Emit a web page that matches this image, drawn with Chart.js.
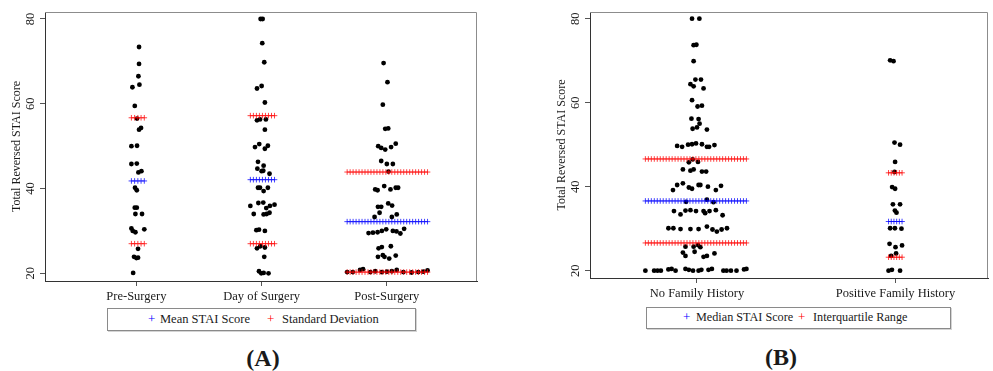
<!DOCTYPE html>
<html><head><meta charset="utf-8">
<script src="https://cdn.jsdelivr.net/npm/chart.js@4.4.1/dist/chart.umd.min.js"></script>
<style>
html,body{margin:0;padding:0;background:#fff;width:993px;height:371px;overflow:hidden;font-family:"Liberation Serif","Times New Roman",serif;color:#1a1a1a;}
#wa{position:absolute;left:0;top:0;width:482px;height:305px;}
#wb{position:absolute;left:545px;top:0;width:448px;height:305px;}
.legend{position:absolute;border:1px solid #8a8a8a;box-shadow:1px 1px 0 #d4d4d4;background:#fff;font-size:12.5px;}
.legend span{position:absolute;white-space:nowrap;line-height:14px;}
.plus{font-size:13px;}
.panel{position:absolute;width:100px;text-align:center;font-weight:bold;font-size:24px;line-height:24px;}
</style></head>
<body>
<div id="wa"><canvas id="ca" width="482" height="305"></canvas></div>
<div id="wb"><canvas id="cb" width="448" height="305"></canvas></div>

<div class="legend" style="left:107px;top:308px;width:307px;height:21px;">
  <span class="plus" style="left:40px;top:3px;color:#0000ff;">+</span>
  <span style="left:52px;top:3px;">Mean STAI Score</span>
  <span class="plus" style="left:159px;top:3px;color:#ff0000;">+</span>
  <span style="left:174px;top:3px;">Standard Deviation</span>
</div>
<div class="legend" style="left:646px;top:307px;width:303px;height:20px;font-size:12.2px;">
  <span class="plus" style="left:36px;top:2px;color:#0000ff;">+</span>
  <span style="left:49px;top:2px;">Median STAI Score</span>
  <span class="plus" style="left:151px;top:2px;color:#ff0000;">+</span>
  <span style="left:166px;top:2px;">Interquartile Range</span>
</div>
<div class="panel" style="left:213px;top:346px;">(A)</div>
<div class="panel" style="left:731px;top:345px;">(B)</div>

<script>
// ---------- Panel A data ----------
const categoriesA = ['Pre-Surgery', 'Day of Surgery', 'Post-Surgery'];
const preSurgery = [73.4, 69.4, 66.5, 64.5, 63.9, 59.5, 56.5, 53.9, 54.3, 50.0, 50.1, 45.8, 45.9, 43.8, 44.1, 40.2, 39.6, 35.5, 35.5, 34.0, 34.0, 30.6, 30.0, 29.7, 30.4, 25.8, 23.9, 23.6, 23.7, 20.1];
const preSurgeryJitter = [0.021, 0.021, 0.016, 0.024, -0.032, -0.013, 0.005, 0.021, 0.037, -0.040, 0.005, -0.040, 0.003, 0.016, 0.040, -0.011, 0.003, -0.013, 0.003, -0.008, 0.045, -0.040, -0.029, -0.008, 0.063, 0.013, -0.019, 0.000, 0.013, -0.026];
const daySurgery = [80.0, 80.0, 74.3, 69.8, 63.6, 64.2, 60.3, 56.1, 56.3, 56.3, 53.9, 49.8, 50.5, 49.4, 50.1, 46.3, 45.4, 44.7, 44.1, 44.2, 43.5, 40.2, 40.2, 39.4, 40.2, 35.9, 36.6, 36.7, 35.4, 35.9, 36.2, 34.0, 33.9, 34.0, 34.3, 30.2, 30.3, 30.0, 25.9, 26.4, 26.1, 23.9, 20.5, 20.0, 20.1, 20.0];
const daySurgeryJitter = [-0.008, 0.008, 0.005, 0.021, -0.037, 0.000, 0.026, -0.037, -0.013, 0.034, 0.026, -0.053, -0.019, 0.026, 0.050, -0.029, 0.016, -0.034, 0.000, 0.013, 0.063, -0.029, -0.013, 0.016, 0.050, -0.090, -0.026, 0.013, 0.037, 0.066, 0.103, -0.063, 0.016, 0.040, 0.063, -0.042, -0.021, 0.026, -0.037, -0.011, 0.026, 0.021, -0.021, -0.003, 0.016, 0.055];
const postSurgery = [69.6, 65.1, 59.8, 54.1, 54.2, 50.0, 49.6, 49.2, 49.8, 50.6, 46.5, 45.8, 45.8, 44.0, 39.8, 39.6, 40.6, 39.8, 40.2, 40.2, 35.7, 35.7, 36.5, 36.0, 33.3, 34.3, 33.3, 33.9, 29.5, 29.6, 29.7, 30.0, 30.4, 30.0, 29.9, 29.4, 30.5, 25.9, 26.2, 26.4, 23.9, 24.3, 23.9, 23.5, 24.2, 20.3, 20.3, 20.8, 21.0, 20.3, 20.5, 20.3, 20.4, 20.5, 20.8, 20.3, 20.2, 20.3, 20.4, 20.7];
const postSurgeryJitter = [-0.026, 0.005, -0.032, -0.013, 0.011, -0.069, -0.045, -0.013, 0.034, 0.071, -0.045, 0.000, 0.048, 0.013, -0.093, -0.074, -0.021, 0.029, 0.071, 0.090, -0.071, -0.045, 0.011, 0.042, -0.098, -0.058, 0.040, 0.079, -0.146, -0.111, -0.074, -0.040, -0.005, 0.048, 0.077, 0.108, 0.138, -0.066, -0.040, 0.032, -0.071, -0.032, -0.019, 0.019, 0.071, -0.317, -0.272, -0.214, -0.190, -0.132, -0.093, -0.040, 0.000, 0.040, 0.079, 0.132, 0.198, 0.251, 0.291, 0.325];
const meanA = [41.8, 42.1, 32.2];
const sdLowA = [27.0, 27.0, 20.3];
const sdHighA = [56.7, 57.2, 43.9];

// ---------- Panel B data ----------
const categoriesB = ['No Family History', 'Positive Family History'];
const noFamily = [80.0, 80.0, 73.7, 73.8, 69.9, 64.4, 65.5, 65.5, 63.9, 63.4, 60.6, 59.1, 59.3, 56.2, 53.8, 56.1, 55.0, 54.1, 53.6,
  49.7, 49.5, 50.0, 50.1, 50.3, 50.1, 49.5, 49.5, 49.9, 45.8, 46.5, 45.9, 44.1, 43.8, 44.1, 43.6, 43.6,
  39.2, 40.4, 40.8, 39.8, 39.5, 40.4, 40.4, 40.0, 39.2, 40.2, 36.4, 36.9, 36.3,
  34.2, 33.4, 34.3, 34.4, 34.2, 34.2, 33.7, 34.2, 34.4, 33.2,
  30.1, 30.1, 29.9, 29.9, 29.9, 30.5, 29.8, 29.3, 29.8, 30.1,
  25.7, 25.7, 26.1, 25.6, 24.3, 23.5, 24.5, 23.3, 23.5, 24.1,
  20.0, 20.0, 20.0, 20.0, 20.3, 20.4, 20.0, 20.4, 20.2, 20.0, 20.0, 20.2, 20.2, 20.4, 20.0, 20.0, 20.0, 20.0, 20.3, 20.4];
const noFamilyJitter = [-0.025, 0.012, -0.017, -0.003, -0.017, -0.033, -0.008, 0.020, -0.017, 0.033, -0.025, 0.003, 0.025, -0.028, -0.022, 0.008, 0.013, 0.000, 0.050,
  -0.100, -0.075, -0.045, -0.025, -0.005, 0.025, 0.050, 0.061, 0.088, -0.041, -0.022, 0.005, -0.071, -0.033, -0.017, 0.025, 0.046,
  -0.121, -0.100, -0.071, -0.041, -0.025, 0.008, 0.017, 0.055, 0.095, 0.121, -0.055, 0.050, 0.083,
  -0.116, -0.083, -0.058, -0.033, -0.005, 0.033, 0.041, 0.063, 0.095, 0.129,
  -0.144, -0.119, -0.083, -0.033, 0.008, 0.050, 0.078, 0.100, 0.124, 0.151,
  -0.058, -0.017, 0.005, 0.017, -0.071, -0.058, -0.012, 0.033, 0.050, 0.088,
  -0.260, -0.216, -0.199, -0.182, -0.144, -0.128, -0.108, -0.058, -0.041, -0.020, 0.008, 0.022, 0.058, 0.075, 0.133, 0.149, 0.171, 0.199, 0.237, 0.249];
const positiveFamily = [70.1, 69.9, 50.5, 50.0, 45.9, 43.5, 39.9, 39.5, 35.8, 35.8, 34.3, 33.8, 30.1, 30.1, 30.0, 26.4, 25.6, 26.0, 24.1, 23.5, 20.0, 20.2, 20.0];
const positiveFamilyJitter = [-0.027, -0.010, -0.005, 0.023, -0.002, -0.005, -0.017, -0.002, -0.013, 0.023, -0.003, 0.005, -0.027, -0.003, 0.030, -0.030, 0.000, 0.033, 0.003, -0.022, -0.035, -0.018, 0.023];
const medianB = [36.6, 31.7];
const iqrLowB = [26.6, 23.2];
const iqrHighB = [46.6, 43.3];

const yTicks = [20, 40, 60, 80];

// ---------- drawing ----------
const FONT = 'Liberation Serif';
const TXT = '#1a1a1a';

const framePlugin = {
  id: 'frame',
  beforeDatasetsDraw(chart) {
    const {ctx, chartArea: a} = chart;
    ctx.save();
    ctx.strokeStyle = '#8c8c8c';
    ctx.lineWidth = 1;
    ctx.beginPath();
    const t = Math.round(a.top) + 0.5, r = Math.round(a.right) - 0.5;
    ctx.moveTo(Math.round(a.left), t);
    ctx.lineTo(r, t);
    ctx.lineTo(r, Math.round(a.bottom));
    ctx.stroke();
    ctx.restore();
  }
};

function build(canvasId, cats, groups, jitters, center, low, high, xr, yr, pad, xAxisH, plotW) {
  const pts = [];
  const cPts = [], lPts = [], hPts = [];
  const unitPx = plotW / (xr[1] - xr[0]);
  groups.forEach((vals, g) => {
    const jit = jitters[g];
    vals.forEach((v, i) => pts.push({x: g + 1 + jit[i], y: v}));
    // summary markers: one "+" every ~3px across the group's jitter spread
    const lo = Math.min(...jit), hi = Math.max(...jit);
    const n = Math.max(4, Math.round((hi - lo) * unitPx / 3) + 1);
    for (let k = 0; k < n; k++) {
      const x = g + 1 + lo + (hi - lo) * k / (n - 1);
      cPts.push({x, y: center[g]});
      lPts.push({x, y: low[g]});
      hPts.push({x, y: high[g]});
    }
  });
  const crossDs = (data, color) => ({
    data, pointStyle: 'cross', pointRadius: 2.8, pointBorderWidth: 1,
    borderColor: color, backgroundColor: color, order: 0, showLine: false
  });
  return new Chart(document.getElementById(canvasId), {
    type: 'scatter',
    data: {
      datasets: [
        crossDs(cPts, 'rgba(0,0,255,0.75)'),
        crossDs(lPts, 'rgba(255,0,0,0.75)'),
        crossDs(hPts, 'rgba(255,0,0,0.75)'),
        {data: pts, pointRadius: 2.4, pointBorderWidth: 0, backgroundColor: '#000', borderColor: '#000', order: 5}
      ]
    },
    options: {
      responsive: false, animation: false, devicePixelRatio: 1, events: [],
      layout: {padding: pad},
      plugins: {legend: {display: false}, tooltip: {enabled: false}},
      scales: {
        x: {
          type: 'linear', min: xr[0], max: xr[1],
          afterBuildTicks: s => { s.ticks = cats.map((c, i) => ({value: i + 1})); },
          afterFit: s => { s.height = xAxisH; },
          grid: {drawOnChartArea: false, drawTicks: true, tickLength: 5, color: '#555'},
          border: {color: '#333', width: 1},
          ticks: {callback: v => cats[Math.round(v) - 1], font: {family: FONT, size: 12.5}, color: TXT,
                  padding: 3, minRotation: 0, maxRotation: 0, autoSkip: false}
        },
        y: {
          min: yr[0], max: yr[1],
          afterBuildTicks: s => { s.ticks = yTicks.map(v => ({value: v})); },
          afterFit: s => { s.width = 45; },
          grid: {drawOnChartArea: false, drawTicks: true, tickLength: 5, color: '#555'},
          border: {color: '#333', width: 1},
          ticks: {minRotation: 90, maxRotation: 90, crossAlign: 'center', padding: 3,
                  font: {family: FONT, size: 12.5}, color: TXT},
          title: {display: true, text: 'Total Reversed STAI Score', font: {family: FONT, size: 12},
                  color: TXT, padding: {top: 10, bottom: 0}}
        }
      }
    },
    plugins: [framePlugin]
  });
}

build('ca', categoriesA, [preSurgery, daySurgery, postSurgery],
      [preSurgeryJitter, daySurgeryJitter, postSurgeryJitter],
      meanA, sdLowA, sdHighA, [0.27, 3.72], [18.2, 81.65],
      {top: 12, right: 3, left: 0, bottom: 0}, 24, 434);
build('cb', categoriesB, [noFamily, positiveFamily],
      [noFamilyJitter, positiveFamilyJitter],
      medianB, iqrLowB, iqrHighB, [0.461, 2.466], [18.25, 81.6],
      {top: 12, right: 0, left: 0, bottom: 0}, 27, 403);
</script>
</body></html>
